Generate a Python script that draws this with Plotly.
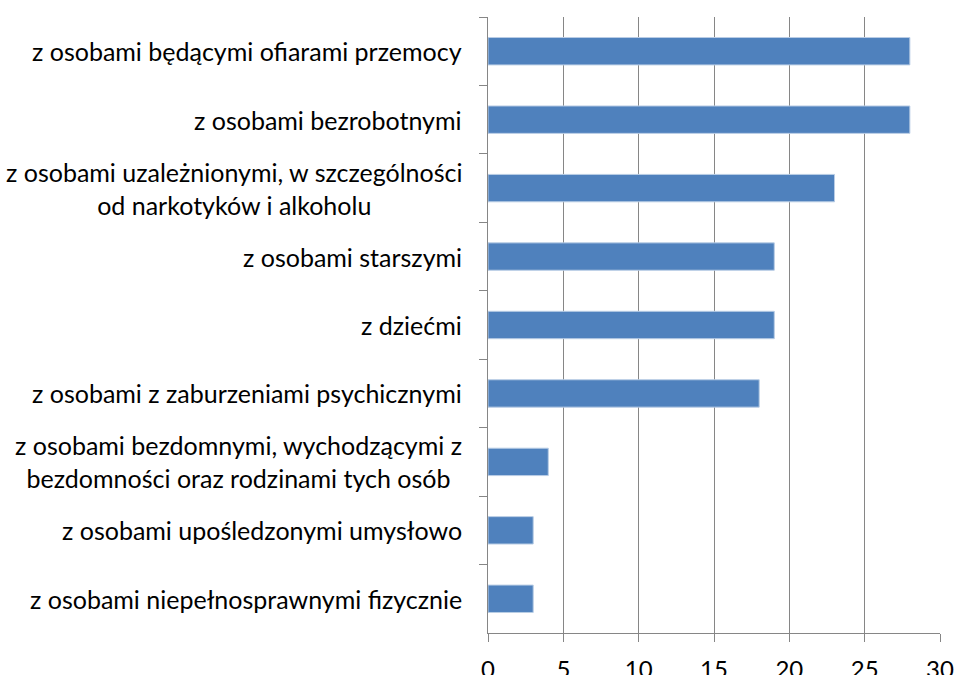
import plotly.graph_objects as go

categories = [
    "z osobami będącymi ofiarami przemocy",
    "z osobami bezrobotnymi",
    "z osobami uzależnionymi, w szczególności<br>od narkotyków i alkoholu",
    "z osobami starszymi",
    "z dziećmi",
    "z osobami z zaburzeniami psychicznymi",
    "z osobami bezdomnymi, wychodzącymi z<br>bezdomności oraz rodzinami tych osób",
    "z osobami upośledzonymi umysłowo",
    "z osobami niepełnosprawnymi fizycznie",
]
values = [28, 28, 23, 19, 19, 18, 4, 3, 3]
x_ticks = [0, 5, 10, 15, 20, 25, 30]

fig = go.Figure(go.Bar(
    x=values, y=categories, orientation="h",
    marker=dict(color="#4F81BD", line=dict(color="#B9CDE5", width=1)),
))

for cat in categories:
    fig.add_annotation(
        x=0, xref="paper", y=cat, yref="y", xanchor="right", yanchor="middle",
        xshift=-24, text=cat, showarrow=False, align="center",
        font=dict(size=25, family="Lato, Open Sans, sans-serif", color="#000000"),
    )

fig.update_layout(
    width=955, height=675,
    margin=dict(l=488, r=15, t=17, b=42),
    plot_bgcolor="white", paper_bgcolor="white",
    bargap=0.6,
    showlegend=False,
    font=dict(family="Lato, Open Sans, sans-serif", color="#000000"),
)
fig.update_xaxes(
    range=[0, 30], tickvals=x_ticks, showgrid=True, gridcolor="#868686", gridwidth=1,
    showline=True, linecolor="#868686", linewidth=1,
    ticks="outside", ticklen=8, tickcolor="#868686",
    tickfont=dict(size=24), zeroline=False, automargin=False,
    ticklabelstandoff=7,
)
fig.update_yaxes(
    autorange="reversed", showline=True, linecolor="#868686", linewidth=1,
    ticks="outside", ticklen=8, tickcolor="#868686", tickson="boundaries",
    showticklabels=False, automargin=False, showgrid=False,
)

fig.write_html("out.html", config={"displayModeBar": False},
               post_script="document.body.style.margin='0';")
